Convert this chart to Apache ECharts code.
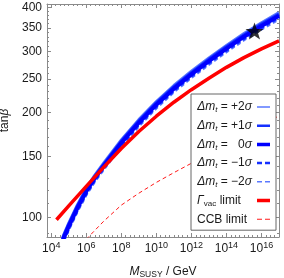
<!DOCTYPE html>
<html><head><meta charset="utf-8">
<script src="https://cdn.jsdelivr.net/npm/echarts@6/dist/echarts.min.js"></script>
<style>html,body{margin:0;padding:0;background:#fff}#c{width:284px;height:278px}</style>
</head><body><div id="c"></div>
<script>
// ---- data ----
const xTickLabels = [1e4, 1e6, 1e8, 1e10, 1e12, 1e14, 1e16];
const yTickLabels = [100, 150, 200, 250, 300, 350, 400];

const mBlue = [4.0e4, 5.0e4, 1.0e5, 3.16e5, 1.0e6, 3.16e6, 1.0e7, 1.0e8, 1.0e9, 1.0e10, 1.0e11, 1.0e12, 1.0e13, 1.0e14, 1.0e15, 1.0e16, 1.0e17];
const tbPlus2  = [85.3, 88.9, 96.4, 108.9, 121.3, 132.7, 143.5, 167.1, 191.0, 215.3, 239.3, 263.0, 287.1, 311.9, 337.3, 362.2, 387.2];
const tbPlus1  = [84.4, 88.0, 95.4, 107.8, 120.1, 131.4, 142.1, 165.4, 189.0, 213.1, 236.9, 260.3, 284.1, 308.7, 333.8, 358.5, 383.3];
const tbZero   = [83.6, 87.1, 94.4, 106.7, 118.9, 130.0, 140.6, 163.7, 187.1, 210.9, 234.4, 257.6, 281.2, 305.5, 330.4, 354.8, 379.3];
const tbMinus1 = [82.7, 86.2, 93.4, 105.6, 117.6, 128.7, 139.2, 162.0, 185.1, 208.7, 232.0, 255.0, 278.3, 302.3, 327.0, 351.2, 375.4];
const tbMinus2 = [81.9, 85.3, 92.5, 104.5, 116.4, 127.4, 137.7, 160.3, 183.2, 206.5, 229.6, 252.4, 275.4, 299.2, 323.6, 347.5, 371.5];

const mGamma = [2.0e4, 1e5, 1e6, 1e7, 1e8, 1e9, 1e10, 1e11, 1e12, 1e13, 1e14, 1e15, 1e16, 1e17];
const tbGamma = [98.6, 108.1, 123.0, 139.6, 157.8, 176.6, 195.4, 214.3, 232.8, 251.2, 269.8, 287.7, 304.8, 321.4];

const mCCB = [1e6, 1e7, 1e8, 1e9, 1e10, 1e11, 1e12, 1e13, 1e14, 1e15, 1e16, 1e17];
const tbCCB = [86.7, 97.7, 108.6, 117.5, 126.2, 134.6, 143.2, 152.4, 162.2, 172.6, 183.7, 195.9];

const starM = [4.0e15];
const starTb = [343];

// legend labels as [style, text] tokens
const legendTokens = {
  p2: [['i', '\u0394m'], ['s', 't'], ['n', ' = +2'], ['i', '\u03c3']],
  p1: [['i', '\u0394m'], ['s', 't'], ['n', ' = +1'], ['i', '\u03c3']],
  z:  [['i', '\u0394m'], ['s', 't'], ['n', ' = '], ['ph', ''], ['n', '0'], ['i', '\u03c3']],
  m1: [['i', '\u0394m'], ['s', 't'], ['n', ' = \u22121'], ['i', '\u03c3']],
  m2: [['i', '\u0394m'], ['s', 't'], ['n', ' = \u22122'], ['i', '\u03c3']],
  gv: [['i', '\u0393'], ['v', 'vac'], ['n', ' limit']],
  ccb: [['n', 'CCB limit']]
};

// ---- styling ----
const FF = '"Liberation Sans", Arial, sans-serif';
const frame = '#8a8a8a';
const txt = '#1a1a1a';
const xMin = 5754, xMax = 1e17, yMin = 88, yMax = 410;
const IW = 13, IH = 14, TEXTW = 55;

const xMinor = [];
for (let k = 15; k <= 68; k++) { if (k % 8 !== 0) xMinor.push(Math.pow(10, k / 4)); }
const yMinor = [];
for (let v = 90; v < 410; v += 10) { if (v % 50 !== 0) yMinor.push(v); }

const baseRich = {
  i: {fontSize: 12, fontStyle: 'italic', fontFamily: FF, color: txt},
  s: {fontSize: 8, fontStyle: 'italic', fontFamily: FF, color: txt, padding: [6, 0, 0, 0]},
  v: {fontSize: 8, fontFamily: FF, color: txt, padding: [6, 0, 0, 0]},
  n: {fontSize: 12, fontFamily: FF, color: txt},
  ph: {width: 7}
};
const mctx = document.createElement('canvas').getContext('2d');
function tokW(st, t) {
  const s = baseRich[st];
  if (st === 'ph') return 7;
  mctx.font = (s.fontStyle === 'italic' ? 'italic ' : '') + s.fontSize + 'px "Liberation Sans"';
  return mctx.measureText(t).width;
}
const legendRich = Object.assign({}, baseRich);
const legendTexts = {};
Object.keys(legendTokens).forEach(name => {
  const toks = legendTokens[name];
  let used = 0;
  let str = '';
  toks.forEach(tk => {
    used += tokW(tk[0], tk[1]);
    str += '{' + tk[0] + '|' + tk[1] + '}';
  });
  const pad = TEXTW - used;
  if (pad > 0.5) {
    legendRich['sp' + name] = {width: pad};
    str += '{sp' + name + '|}';
  }
  legendTexts[name] = str;
});

function iconPath(thick, dashed) {
  const y0 = (IH - thick) / 2;
  let p = 'path://M0,0L0.01,0L0,0.01Z M' + (IW - 0.01) + ',' + IH + 'L' + IW + ',' + IH + 'L' + IW + ',' + (IH - 0.01) + 'Z';
  if (!dashed) p += ' M0,' + y0 + 'h' + IW + 'v' + thick + 'h-' + IW + 'Z';
  else p += ' M0,' + y0 + 'h5v' + thick + 'h-5Z M8,' + y0 + 'h5v' + thick + 'h-5Z';
  return p;
}

function xAx(pos, ticks, len, showLine, label) {
  return {
    type: 'log', logBase: 10, min: xMin, max: xMax, position: pos,
    axisLine: {show: showLine, onZero: false, lineStyle: {color: frame, width: 1}},
    axisTick: {show: true, inside: true, length: len, customValues: ticks, lineStyle: {color: frame, width: 1}},
    axisLabel: label || {show: false},
    splitLine: {show: false}, minorTick: {show: false}, minorSplitLine: {show: false}
  };
}
function yAx(pos, ticks, len, showLine, label) {
  return {
    type: 'log', logBase: 10, min: yMin, max: yMax, position: pos,
    axisLine: {show: showLine, onZero: false, lineStyle: {color: frame, width: 1}},
    axisTick: {show: true, inside: true, length: len, customValues: ticks, lineStyle: {color: frame, width: 1}},
    axisLabel: label || {show: false},
    splitLine: {show: false}, minorTick: {show: false}, minorSplitLine: {show: false}
  };
}

const xMain = xAx('bottom', xTickLabels, 4, true, {
  show: true, customValues: xTickLabels, margin: 4,
  formatter: v => '{b|10}{e|' + Math.round(Math.log10(v)) + '}',
  rich: {
    b: {fontSize: 12, fontFamily: FF, color: txt},
    e: {fontSize: 9, fontFamily: FF, color: txt, padding: [0, 0, 7, 0]}
  }
});
xMain.name = '{i|M}{s|SUSY}{n| / GeV}';
xMain.nameLocation = 'middle';
xMain.nameGap = 27;
xMain.nameTextStyle = {
  rich: {
    i: {fontSize: 12, fontStyle: 'italic', fontFamily: FF, color: txt},
    s: {fontSize: 8.5, fontFamily: FF, color: txt, padding: [6, 0, 0, 0]},
    n: {fontSize: 12, fontFamily: FF, color: txt}
  }
};

const yMain = yAx('left', yTickLabels, 4, true, {
  show: true, customValues: yTickLabels, margin: 5,
  formatter: v => String(Math.round(v)),
  fontSize: 12, fontFamily: FF, color: txt
});
yMain.name = '{n|tan}{i|\u03b2}';
yMain.nameLocation = 'middle';
yMain.nameGap = 35;
yMain.nameRotate = 90;
yMain.nameTextStyle = {
  rich: {
    n: {fontSize: 12, fontFamily: FF, color: txt},
    i: {fontSize: 12, fontStyle: 'italic', fontFamily: FF, color: txt}
  }
};

function line(name, xs, ys, color, width, dash) {
  return {
    name: name, type: 'line', xAxisIndex: 0, yAxisIndex: 0,
    data: xs.map((x, i) => [x, ys[i]]),
    symbol: 'none', smooth: false, clip: true,
    lineStyle: {color: color, width: width, type: dash || 'solid', cap: 'butt', join: 'round'},
    itemStyle: {color: color, borderWidth: 0}, emphasis: {disabled: true}
  };
}

const STAR = 'path://M50,0 L61.8,35.1 L97.6,34.5 L68.8,56.7 L79.4,90.5 L50,70 L20.6,90.5 L31.2,56.7 L2.4,34.5 L38.2,35.1 Z';

const option = {
  animation: false,
  backgroundColor: '#fff',
  grid: {left: 47, right: 5, top: 4, bottom: 41, containLabel: false, outerBoundsMode: 'none'},
  xAxis: [
    xMain,
    xAx('bottom', xMinor, 2, false),
    xAx('top', xTickLabels, 4, true),
    xAx('top', xMinor, 2, false)
  ],
  yAxis: [
    yMain,
    yAx('left', yMinor, 2, false),
    yAx('right', yTickLabels, 4, true),
    yAx('right', yMinor, 2, false)
  ],
  legend: {
    orient: 'vertical', left: 191, top: 94, align: 'right',
    selectedMode: false,
    itemWidth: IW, itemHeight: IH, itemGap: 4.7,
    padding: [6, 6, 4, 6],
    borderColor: '#666', borderWidth: 1, backgroundColor: '#fff',
    itemStyle: {borderWidth: 0},
    formatter: n => legendTexts[n],
    textStyle: {
      width: TEXTW, fontSize: 12, fontFamily: FF, color: txt,
      rich: legendRich
    },
    data: [
      {name: 'p2', icon: iconPath(1.5, false)},
      {name: 'p1', icon: iconPath(2.5, false)},
      {name: 'z', icon: iconPath(3.5, false)},
      {name: 'm1', icon: iconPath(2.5, true)},
      {name: 'm2', icon: iconPath(1.5, true)},
      {name: 'gv', icon: iconPath(3.5, false)},
      {name: 'ccb', icon: iconPath(1, true)}
    ]
  },
  series: [
    line('p2', mBlue, tbPlus2, '#5a78ff', 3),
    line('m2', mBlue, tbMinus2, '#5a78ff', 3, [4, 3]),
    line('p1', mBlue, tbPlus1, '#1530ff', 3.5),
    line('m1', mBlue, tbMinus1, '#1530ff', 3.5, [4, 3]),
    line('z', mBlue, tbZero, '#0000ff', 4),
    line('ccb', mCCB, tbCCB, '#ff1a1a', 1, [4, 3]),
    line('gv', mGamma, tbGamma, '#ff0000', 3.5),
    {
      name: 'star', type: 'scatter', xAxisIndex: 0, yAxisIndex: 0,
      data: starM.map((x, i) => [x, starTb[i]]),
      symbol: STAR, symbolSize: [18, 17], itemStyle: {color: '#000'}, z: 5
    }
  ]
};

const chart = echarts.init(document.getElementById('c'));
chart.setOption(option);
</script>
</body></html>
